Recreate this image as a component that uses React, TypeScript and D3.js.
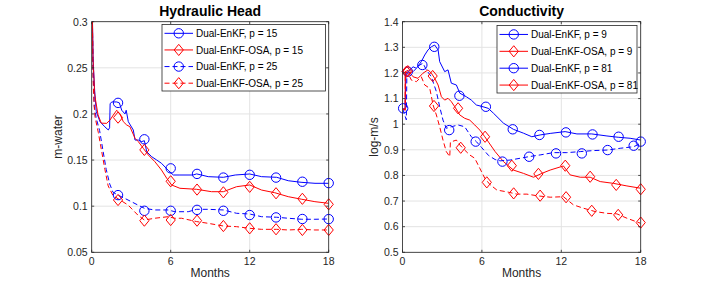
import React from "react";
import * as d3 from "d3";

type P = [number, number];

// ---------- Hydraulic Head data (months, m-water) ----------
const headEnkf15: P[] = [[0.02,0.34],[0.1,0.26],[0.23,0.224],[0.35,0.2025],[0.63,0.1916],[1.0,0.186],[1.26,0.1826],[1.36,0.185],[1.4,0.211],[1.52,0.213],[1.9,0.213],[2.1,0.212],[2.28,0.204],[2.53,0.2],[2.62,0.204],[2.78,0.1916],[3.16,0.1826],[3.29,0.1717],[3.54,0.1717],[3.8,0.17],[4.0,0.171],[4.18,0.159],[4.56,0.1536],[4.94,0.15],[5.3,0.1465],[5.8,0.139],[6.2,0.1338],[6.7,0.1338],[7.7,0.1338],[7.97,0.135],[8.85,0.132],[10.0,0.1313],[10.9,0.1338],[12.0,0.1349],[12.9,0.132],[14.05,0.1313],[14.93,0.1276],[15.9,0.1259],[16.96,0.1248],[18,0.1248]];
const headOsa15: P[] = [[0.02,0.34],[0.1,0.26],[0.23,0.2205],[0.48,0.199],[0.73,0.19],[1.14,0.1898],[1.39,0.1934],[1.64,0.1988],[1.9,0.204],[2.15,0.2],[2.4,0.1916],[2.66,0.188],[2.9,0.1862],[3.29,0.1736],[3.54,0.17],[3.92,0.1627],[4.3,0.1555],[4.8,0.1482],[5.3,0.1392],[5.7,0.1302],[6.07,0.123],[6.7,0.1194],[7.97,0.1183],[9.1,0.1157],[10,0.1157],[11,0.1211],[12,0.123],[12.9,0.1175],[13.9,0.1146],[14.93,0.1103],[15.95,0.1075],[16.95,0.1049],[18,0.1031]];
const headEnkf25: P[] = [[0.02,0.34],[0.1,0.25],[0.2,0.208],[0.35,0.195],[0.6,0.182],[0.86,0.16],[1.1,0.14],[1.37,0.124],[1.62,0.115],[2.0,0.112],[2.76,0.1067],[3.5,0.1013],[4.0,0.0977],[4.78,0.0959],[5.8,0.0959],[6.32,0.094],[7.33,0.094],[7.97,0.0966],[8.85,0.0966],[10,0.0959],[11,0.0923],[12,0.0915],[12.9,0.0886],[14.05,0.088],[14.93,0.0869],[15.95,0.0858],[16.95,0.0858],[18,0.0861]];
const headOsa25: P[] = [[0.02,0.34],[0.1,0.24],[0.17,0.213],[0.25,0.197],[0.5,0.18],[0.75,0.16],[1.0,0.14],[1.25,0.122],[1.6,0.112],[2.0,0.108],[2.76,0.1013],[3.5,0.0904],[4.0,0.085],[4.78,0.0869],[5.8,0.0886],[6.32,0.0869],[6.83,0.0869],[7.97,0.0833],[8.85,0.0814],[10,0.0785],[11,0.0778],[12,0.076],[12.9,0.0749],[14.05,0.0749],[14.93,0.0742],[15.95,0.0749],[16.95,0.0742],[18,0.0742]];

const headEnkf15Marks: P[] = [[2,0.212],[4,0.1725],[6,0.141],[8,0.135],[10,0.131],[12,0.134],[14,0.131],[16,0.1265],[18,0.125]];
const headOsa15Marks: P[] = [[2,0.196],[4,0.161],[6,0.127],[8,0.118],[10,0.115],[12,0.121],[14,0.114],[16,0.108],[18,0.102]];
const headEnkf25Marks: P[] = [[2,0.112],[4,0.095],[6,0.095],[8,0.096],[10,0.095],[12,0.0904],[14,0.0878],[16,0.0861],[18,0.086]];
const headOsa25Marks: P[] = [[2,0.1067],[4,0.0843],[6,0.085],[8,0.0843],[10,0.0785],[12,0.076],[14,0.075],[16,0.0742],[18,0.0742]];

// ---------- Conductivity data (months, log-m/s) ----------
const condEnkf9: P[] = [[0.02,1.06],[0.2,1.06],[0.25,1.2],[0.42,1.205],[0.8,1.224],[1.05,1.218],[1.42,1.244],[1.68,1.27],[1.93,1.29],[2.18,1.302],[2.43,1.309],[2.69,1.29],[2.81,1.244],[3.19,1.205],[3.44,1.212],[3.69,1.16],[4.07,1.153],[4.33,1.121],[4.83,1.107],[5.2,1.094],[5.58,1.075],[6.09,1.068],[6.47,1.062],[6.87,1.043],[7.63,1.004],[8.38,0.98],[9.14,0.965],[9.77,0.951],[10.4,0.958],[11.16,0.964],[12.29,0.971],[13.18,0.962],[14.3,0.962],[15.45,0.954],[16.3,0.949],[17.2,0.945],[18,0.938]];
const condOsa9: P[] = [[0.02,1.06],[0.2,1.055],[0.21,1.205],[0.42,1.21],[0.8,1.185],[1.17,1.179],[1.55,1.199],[1.93,1.212],[2.18,1.199],[2.43,1.179],[2.69,1.153],[2.94,1.107],[3.19,1.094],[3.44,1.101],[3.69,1.088],[3.95,1.068],[4.33,1.036],[4.7,1.023],[5.08,1.016],[5.46,0.997],[5.84,0.977],[6.22,0.951],[6.5,0.93],[7.0,0.893],[7.63,0.854],[8.38,0.821],[9.14,0.808],[9.9,0.793],[10.53,0.808],[11.16,0.821],[12.16,0.837],[12.67,0.802],[13.43,0.793],[14.18,0.793],[14.94,0.776],[15.95,0.769],[16.96,0.759],[18,0.75]];
const condEnkf81: P[] = [[0.02,1.06],[0.29,1.017],[0.33,1.199],[0.8,1.205],[1.3,1.231],[1.55,1.238],[1.8,1.212],[2.18,1.185],[2.56,1.127],[2.81,1.068],[3.06,1.016],[3.31,0.984],[3.69,0.99],[4.2,0.997],[4.7,0.99],[5.2,0.951],[5.58,0.932],[5.96,0.91],[6.5,0.878],[7.0,0.862],[7.38,0.857],[8.13,0.86],[8.89,0.867],[9.52,0.873],[10.4,0.88],[11.4,0.889],[12.42,0.889],[13.43,0.893],[14.43,0.897],[15.45,0.899],[16.45,0.906],[17.46,0.912],[18,0.925]];
const condOsa81: P[] = [[0.02,1.06],[0.2,1.055],[0.21,1.205],[0.42,1.199],[0.67,1.172],[1.05,1.166],[1.42,1.185],[1.68,1.153],[2.06,1.14],[2.31,1.075],[2.56,1.036],[2.81,0.99],[3.06,0.938],[3.31,0.893],[3.57,0.873],[3.62,0.93],[4.07,0.938],[4.33,0.919],[4.7,0.899],[5.08,0.88],[5.46,0.867],[5.84,0.828],[6.22,0.789],[6.6,0.765],[7.13,0.743],[7.88,0.736],[8.64,0.727],[9.4,0.727],[10.27,0.72],[11.16,0.715],[12.16,0.717],[12.92,0.685],[13.68,0.672],[14.56,0.659],[15.45,0.652],[16.2,0.65],[16.96,0.633],[18,0.613]];

const condEnkf9Marks: P[] = [[0.4,1.205],[2.4,1.302],[4.3,1.111],[6.3,1.068],[8.33,0.98],[10.35,0.958],[12.35,0.968],[14.36,0.96],[16.33,0.951],[18,0.932]];
const condOsa9Marks: P[] = [[0.4,1.207],[2.28,1.188],[4.2,1.062],[6.24,0.951],[8.26,0.838],[10.27,0.806],[12.3,0.838],[14.18,0.795],[16.15,0.763],[18,0.746]];
const condEnkf81Marks: P[] = [[0.05,1.062],[1.5,1.231],[3.53,0.977],[5.53,0.932],[7.55,0.854],[9.57,0.873],[11.6,0.886],[13.55,0.886],[15.5,0.899],[17.47,0.916]];
const condOsa81Marks: P[] = [[0.3,1.205],[2.38,1.071],[4.4,0.908],[6.37,0.773],[8.4,0.73],[10.4,0.721],[12.36,0.715],[14.3,0.662],[16.3,0.646],[18,0.616]];

const monthTicks = [0, 6, 12, 18];
const headTicks = [0.05, 0.1, 0.15, 0.2, 0.25, 0.3];
const condTicks = [0.5, 0.6, 0.7, 0.8, 0.9, 1.0, 1.1, 1.2, 1.3, 1.4];
const headLabels = ["Dual-EnKF, p = 15", "Dual-EnKF-OSA, p = 15", "Dual-EnKF, p = 25", "Dual-EnKF-OSA, p = 25"];
const condLabels = ["Dual-EnKF, p = 9", "Dual-EnKF-OSA, p = 9", "Dual-EnKF, p = 81", "Dual-EnKF-OSA, p = 81"];

const FONT = "'Liberation Sans', Arial, Helvetica, sans-serif";
const BLUE = "#0000ff";
const RED = "#ff0000";
const AX = "#262626";
const GRID = "#e3e3e3";

interface Series { data: P[]; marks: P[]; color: string; dashed: boolean; marker: "o" | "d"; label: string; }

function Marker({ x, y, kind, color }: { x: number; y: number; kind: "o" | "d"; color: string }) {
  if (kind === "o") return <circle cx={x} cy={y} r={4.7} fill="none" stroke={color} strokeWidth={1} />;
  const w = 4.6, h = 5.6;
  return <path d={`M${x},${y - h}L${x + w},${y}L${x},${y + h}L${x - w},${y}Z`} fill="none" stroke={color} strokeWidth={1} />;
}

function Panel(props: {
  id: string; x0: number; x1: number; title: string; ylabel: string; yDomain: [number, number];
  yTicks: number[]; series: Series[]; legend: { x0: number; x1: number; y0: number; y1: number; dashedSample: boolean };
  ylabelX: number;
}) {
  const { id, x0, x1, title, ylabel, yDomain, yTicks, series, legend, ylabelX } = props;
  const top = 21.7, bottom = 252.3;
  const xs = d3.scaleLinear().domain([0, 18]).range([x0, x1]);
  const ys = d3.scaleLinear().domain(yDomain).range([bottom, top]);
  const line = d3.line<P>().x(d => xs(d[0])).y(d => ys(d[1])).curve(d3.curveLinear);
  const tk = 2.5;
  const fmt = (v: number) => String(Math.round(v * 100) / 100);
  const rowH = (legend.y1 - legend.y0) / 4;
  return (
    <g>
      <defs>
        <clipPath id={id}><rect x={x0} y={top} width={x1 - x0} height={bottom - top} /></clipPath>
      </defs>
      <rect x={x0} y={top} width={x1 - x0} height={bottom - top} fill="#fff" />
      {monthTicks.map(t => <line key={"gx" + t} x1={xs(t)} x2={xs(t)} y1={top} y2={bottom} stroke={GRID} strokeWidth={1} />)}
      {yTicks.map(t => <line key={"gy" + t} x1={x0} x2={x1} y1={ys(t)} y2={ys(t)} stroke={GRID} strokeWidth={1} />)}
      <g clipPath={`url(#${id})`}>
        {series.map((s, i) => (
          <path key={"l" + i} d={line(s.data) || ""} fill="none" stroke={s.color} strokeWidth={1}
            strokeDasharray={s.dashed ? "5,3" : undefined} />
        ))}
      </g>
      {series.map((s, i) => (
        <g key={"m" + i}>
          {s.marks.map((m, j) => <Marker key={j} x={xs(m[0])} y={ys(m[1])} kind={s.marker} color={s.color} />)}
        </g>
      ))}
      <rect x={x0} y={top} width={x1 - x0} height={bottom - top} fill="none" stroke={AX} strokeWidth={0.8} />
      {monthTicks.map(t => (
        <g key={"tx" + t}>
          <line x1={xs(t)} x2={xs(t)} y1={bottom} y2={bottom - tk} stroke={AX} strokeWidth={0.8} />
          <line x1={xs(t)} x2={xs(t)} y1={top} y2={top + tk} stroke={AX} strokeWidth={0.8} />
          <text x={xs(t)} y={bottom + 13} textAnchor="middle" fontSize={10.5} fill={AX} fontFamily={FONT}>{t}</text>
        </g>
      ))}
      {yTicks.map(t => (
        <g key={"ty" + t}>
          <line x1={x0} x2={x0 + tk} y1={ys(t)} y2={ys(t)} stroke={AX} strokeWidth={0.8} />
          <line x1={x1} x2={x1 - tk} y1={ys(t)} y2={ys(t)} stroke={AX} strokeWidth={0.8} />
          <text x={x0 - 4} y={ys(t) + 3.8} textAnchor="end" fontSize={10.5} fill={AX} fontFamily={FONT}>{fmt(t)}</text>
        </g>
      ))}
      <text x={(x0 + x1) / 2} y={16} textAnchor="middle" fontSize={14} fontWeight="bold" fill="#000" fontFamily={FONT}>{title}</text>
      <text x={(x0 + x1) / 2} y={276.5} textAnchor="middle" fontSize={12} fill={AX} fontFamily={FONT}>Months</text>
      <text transform={`translate(${ylabelX},${(top + bottom) / 2}) rotate(-90)`} textAnchor="middle" fontSize={12} fill={AX} fontFamily={FONT}>{ylabel}</text>
      <rect x={legend.x0} y={legend.y0} width={legend.x1 - legend.x0} height={legend.y1 - legend.y0} fill="#fff" stroke={AX} strokeWidth={0.8} />
      {series.map((s, i) => {
        const cy = legend.y0 + rowH * (i + 0.5) + 0.5;
        const lx0 = legend.x0 + 2.5, lx1 = legend.x0 + 31;
        return (
          <g key={"lg" + i}>
            <line x1={lx0} x2={lx1} y1={cy} y2={cy} stroke={s.color} strokeWidth={1}
              strokeDasharray={s.dashed && legend.dashedSample ? "5,3" : undefined} />
            <Marker x={(lx0 + lx1) / 2} y={cy} kind={s.marker} color={s.color} />
            <text x={legend.x0 + 34} y={cy + 3.6} fontSize={10} fill="#000" fontFamily={FONT}>{s.label}</text>
          </g>
        );
      })}
    </g>
  );
}

export default function App() {
  const headSeries: Series[] = [
    { data: headEnkf15, marks: headEnkf15Marks, color: BLUE, dashed: false, marker: "o", label: headLabels[0] },
    { data: headOsa15, marks: headOsa15Marks, color: RED, dashed: false, marker: "d", label: headLabels[1] },
    { data: headEnkf25, marks: headEnkf25Marks, color: BLUE, dashed: true, marker: "o", label: headLabels[2] },
    { data: headOsa25, marks: headOsa25Marks, color: RED, dashed: true, marker: "d", label: headLabels[3] },
  ];
  const condSeries: Series[] = [
    { data: condEnkf9, marks: condEnkf9Marks, color: BLUE, dashed: false, marker: "o", label: condLabels[0] },
    { data: condOsa9, marks: condOsa9Marks, color: RED, dashed: false, marker: "d", label: condLabels[1] },
    { data: condEnkf81, marks: condEnkf81Marks, color: BLUE, dashed: true, marker: "o", label: condLabels[2] },
    { data: condOsa81, marks: condOsa81Marks, color: RED, dashed: true, marker: "d", label: condLabels[3] },
  ];
  return (
    <svg width={708} height={284} style={{ position: "absolute", left: 0, top: 0, background: "#fff" }}>
      <rect width={708} height={284} fill="#fff" />
      <Panel id="clipHead" x0={91.7} x1={328.7} title="Hydraulic Head" ylabel="m-water" yDomain={[0.05, 0.3]}
        yTicks={headTicks} series={headSeries} ylabelX={62}
        legend={{ x0: 162, x1: 325.5, y0: 24.5, y1: 91, dashedSample: true }} />
      <Panel id="clipCond" x0={402.5} x1={640.7} title="Conductivity" ylabel="log-m/s" yDomain={[0.5, 1.4]}
        yTicks={condTicks} series={condSeries} ylabelX={378}
        legend={{ x0: 497, x1: 637, y0: 25.5, y1: 93, dashedSample: false }} />
    </svg>
  );
}
